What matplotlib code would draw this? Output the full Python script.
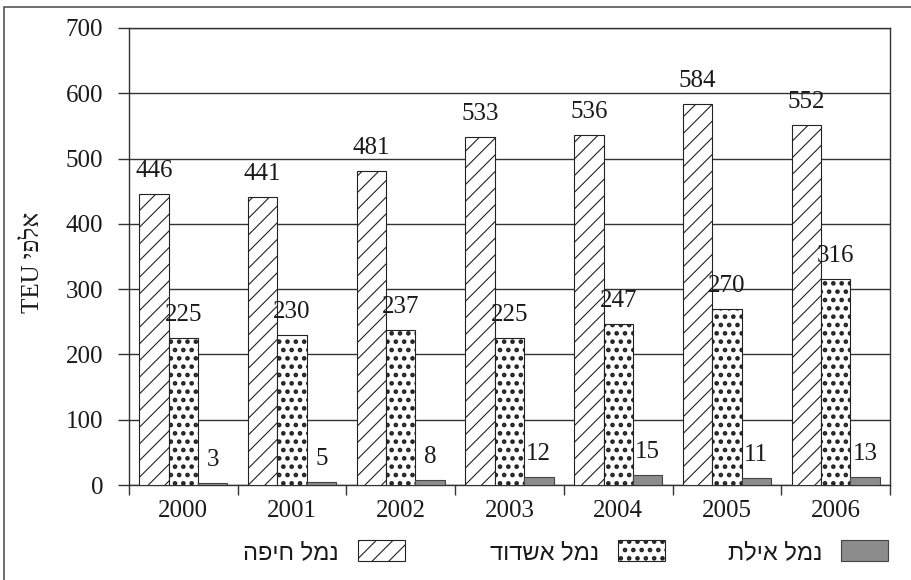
import matplotlib
matplotlib.use("Agg")
import matplotlib.pyplot as plt
import numpy as np
from matplotlib.patches import Rectangle, Patch

# Container traffic by port (thousand TEU)
years = ["2000", "2001", "2002", "2003", "2004", "2005", "2006"]
haifa = [446, 441, 481, 533, 536, 584, 552]
ashdod = [225, 230, 237, 225, 247, 270, 316]
eilat = [3, 5, 8, 12, 15, 11, 13]

# Hebrew labels (logical order); reversed for left-to-right rendering
label_haifa = "נמל חיפה"
label_ashdod = "נמל אשדוד"
label_eilat = "נמל אילת"
y_unit_he = "אלפי"


def visual(s):
    return s[::-1]


def hatch_weight(artist, lw):
    if hasattr(artist, "set_hatch_linewidth"):
        artist.set_hatch_linewidth(lw)


serif = ["Liberation Serif", "DejaVu Serif"]
sans = ["Liberation Sans", "DejaVu Sans"]
plt.rcParams["font.family"] = serif

W, H = 911, 580
fig = plt.figure(figsize=(W / 100, H / 100), dpi=100)
ax = fig.add_axes([129 / W, 1 - 485 / H, (890 - 129) / W, (485 - 28) / H])

x = np.arange(len(years))
bw = 0.27
ink = "#222222"
eilat_grey = "#8c8c8c"
DOT_LW = 2.1

b1 = ax.bar(x - bw, haifa, bw, color="white", edgecolor=ink, linewidth=0.8,
            hatch="//", zorder=3)
b2 = ax.bar(x, ashdod, bw, color="white", edgecolor=ink, linewidth=0.8,
            hatch="..", zorder=3)
b3 = ax.bar(x + bw, eilat, bw, color=eilat_grey, edgecolor="#444444",
            linewidth=0.8, zorder=3)

for bar in b1:
    hatch_weight(bar, 0.8)
for bar in b2:
    hatch_weight(bar, DOT_LW)

for bars, vals in ((b1, haifa), (b2, ashdod), (b3, eilat)):
    for bar, v in zip(bars, vals):
        ax.annotate(str(v), (bar.get_x() + bar.get_width() / 2, v),
                    xytext=(0, 8.5), textcoords="offset points",
                    ha="center", va="bottom", fontsize=18, color="#1a1a1a",
                    zorder=4)

ax.set_xlim(-0.5, len(years) - 0.5)
ax.set_ylim(0, 700)
ax.set_yticks(np.arange(0, 701, 100))
ax.yaxis.grid(True, color="#333333", linewidth=1.0, zorder=0)
ax.set_axisbelow(True)

ax.set_xticks(x)
ax.set_xticklabels(years)
ax.set_xticks(np.arange(-0.5, len(years), 1.0), minor=True)
ax.tick_params(axis="x", which="major", length=0, pad=11, labelsize=18,
               labelcolor="#1a1a1a")
ax.tick_params(axis="x", which="minor", length=7.5, width=1.0,
               color="#333333", direction="out")
ax.tick_params(axis="y", length=8, width=1.0, color="#333333", pad=10.5,
               labelsize=18, labelcolor="#1a1a1a")

for side in ("left", "right", "top", "bottom"):
    ax.spines[side].set_color("#333333")
    ax.spines[side].set_linewidth(1.0)

fig.text(33 / W, 1 - 262 / H, "TEU " + visual(y_unit_he), rotation=90,
         ha="center", va="center", fontsize=18, color="#1a1a1a",
         family=serif)

# Legend entries, text to the left of each swatch
entries = [
    (Patch(facecolor="white", edgecolor=ink, hatch="//", linewidth=0.8),
     label_haifa, 405, 0.8),
    (Patch(facecolor="white", edgecolor=ink, hatch="..", linewidth=0.8),
     label_ashdod, 665, DOT_LW),
    (Patch(facecolor=eilat_grey, edgecolor="#444444", linewidth=0.8),
     label_eilat, 888, None),
]
for handle, text, xr, hlw in entries:
    leg = fig.legend([handle], [visual(text)], loc="center right",
                     bbox_to_anchor=(xr / W, 1 - 552 / H), frameon=False,
                     markerfirst=False, handlelength=2.0, handleheight=1.0,
                     handletextpad=0.8, borderpad=0, borderaxespad=0,
                     prop={"family": sans, "size": 17})
    for t in leg.get_texts():
        t.set_color("#1a1a1a")
    if hlw is not None:
        for h in leg.legend_handles:
            hatch_weight(h, hlw)

# Frame around the whole figure
fig.add_artist(Rectangle((4 / W, -0.02), 1.05, 1 - 7 / H + 0.02,
                         transform=fig.transFigure, fill=False,
                         edgecolor="#555555", linewidth=1.2))

fig.savefig("out.png", dpi=100)
